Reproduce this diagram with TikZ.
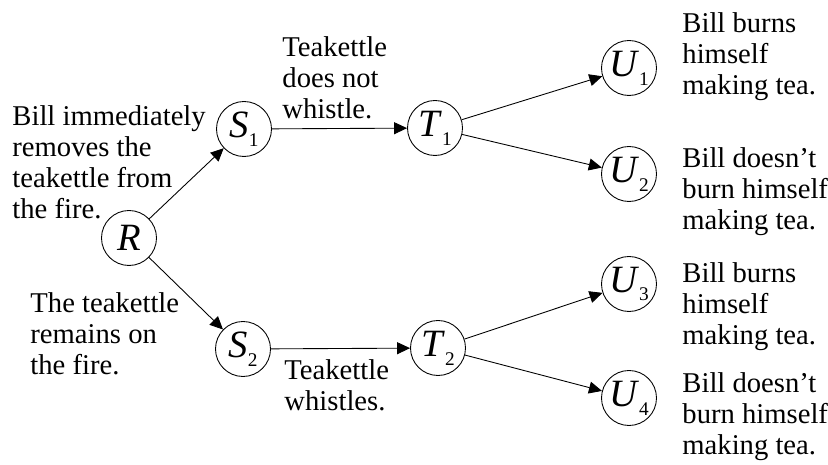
\documentclass[tikz,border=0pt]{standalone}
\usepackage{fontspec}
\setmainfont{Liberation Serif}
\usetikzlibrary{arrows.meta}
\tikzset{>={Triangle[length=2.6mm,width=2.4mm]}}
\newcommand{\stsub}[1]{\/\raisebox{-5pt}{\fontsize{11}{11}\selectfont\upshape #1}}

\begin{document}
\begin{tikzpicture}[x=0.02cm,y=-0.02cm,line width=0.5pt,
    state/.style={circle,draw,minimum size=1.1cm,inner sep=0pt,font=\fontsize{22}{22}\selectfont\itshape},
    note/.style={align=left,inner sep=0pt,anchor=base west,font=\fontsize{16.3}{17.7}\selectfont}]
  \useasboundingbox (0,0) rectangle (828,465);

  % states of the tree
  \node[state] (R) at (129,238) {R};
  \node[state] (S1) at (244,129) {S\stsub{1}};
  \node[state] (S2) at (243,349) {S\stsub{2}};
  \node[state] (T1) at (435,128) {T\stsub{1}};
  \node[state] (T2) at (438,348) {T\stsub{2}};
  \node[state] (U1) at (629,68) {U\stsub{1}};
  \node[state] (U2) at (629,174) {U\stsub{2}};
  \node[state] (U3) at (629,284) {U\stsub{3}};
  \node[state] (U4) at (629,398) {U\stsub{4}};

  % branches
  \draw[->] (R) -- (S1);
  \draw[->] (R) -- (S2);
  \draw[->] (S1) -- (T1);
  \draw[->] (S2) -- (T2);
  \draw[->] (T1) -- (U1);
  \draw[->] (T1) -- (U2);
  \draw[->] (T2) -- (U3);
  \draw[->] (T2) -- (U4);

  % outcomes (anchored at the last line)
  \node[note] (removes) at (12,219) {Bill immediately\\removes the\\teakettle from\\the fire.};
  \node[note] (remains) at (30,375) {The teakettle\\remains on\\the fire.};
  \node[note] (silent) at (282,119) {Teakettle\\does not\\whistle.};
  \node[note] (whistles) at (284,411) {Teakettle\\whistles.};
  \node[note] (burn1) at (682,95) {Bill burns\\himself\\making tea.};
  \node[note] (noburn1) at (682,230) {Bill doesn’t\\burn himself\\making tea.};
  \node[note] (burn2) at (682,345) {Bill burns\\himself\\making tea.};
  \node[note] (noburn2) at (682,455) {Bill doesn’t\\burn himself\\making tea.};
\end{tikzpicture}
\end{document}
